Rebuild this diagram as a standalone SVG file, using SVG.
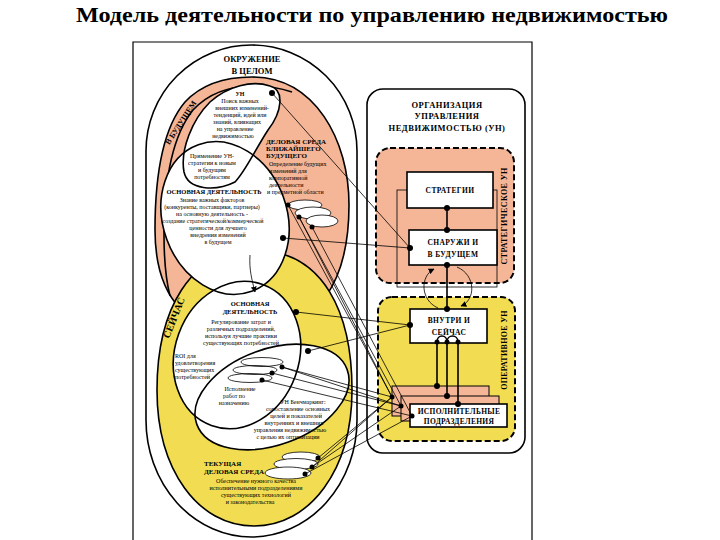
<svg xmlns="http://www.w3.org/2000/svg" width="720" height="540" viewBox="0 0 720 540">
<style>
.t{font-family:"Liberation Serif","Times New Roman",serif;fill:#000}
.s{font-size:6px}
.h{font-size:7px;font-weight:bold}
.hb{font-size:8.5px;font-weight:bold}
.ln{stroke:#000;stroke-width:1.6;fill:none}
.th{stroke:#000;stroke-width:0.8;fill:none}
.wf{fill:#fff;stroke:none}
.org{fill:#F4B697}
.yel{fill:#F2DD52}
.dot{fill:#000}
.dash{stroke:#000;stroke-width:2;stroke-dasharray:6 3}
.box{fill:#fff;stroke:#000;stroke-width:1.6}
.cl{fill:#fff;stroke:#000;stroke-width:0.8}
</style>
<defs>
<marker id="ah" viewBox="0 0 10 10" refX="9" refY="5" markerWidth="6" markerHeight="6" orient="auto" markerUnits="userSpaceOnUse"><path d="M0,0 L10,5 L0,10 Z" fill="#000"/></marker>
<path id="fUN" d="M270,86 C285,90 282,112 268,130 C255,150 245,172 235,182 C215,192 188,190 184,172 C180,150 192,120 210,102 C228,86 252,80 270,86 Z"/>
<ellipse id="fOD" cx="225" cy="218" rx="62" ry="78" transform="rotate(-20 225 218)"/>
<ellipse id="cOD" cx="237" cy="355" rx="62" ry="75" transform="rotate(20 237 355)"/>
<ellipse id="cBM" cx="272" cy="397" rx="80" ry="48" transform="rotate(-20 272 397)"/>
</defs>
<rect width="720" height="540" fill="#fff"/>
<text class="t" x="76" y="22" font-size="21" font-weight="bold" textLength="592" lengthAdjust="spacingAndGlyphs">Модель  деятельности по управлению недвижимостью</text>
<path d="M133,541 L133,42 L532,42 L532,541" fill="none" stroke="#000" stroke-width="1.2"/>

<g id="environment">
<path d="M146,420 L146,151 A105.5,106 0 0 1 357,151 L357,420 A105.5,117 0 0 1 146,420 Z" fill="#fff" stroke="#000" stroke-width="1.6"/>
<text class="t hb" x="252" y="62" text-anchor="middle">ОКРУЖЕНИЕ</text>
<text class="t hb" x="252" y="74" text-anchor="middle">В ЦЕЛОМ</text>
</g>

<g id="future">
<path class="org" d="M252,77 C315,77 349,140 349,205 C349,280 320,330 252,335 C190,335 155,300 155,230 C155,160 168,122 185,102 C198,88 220,77 252,77 Z" stroke="#000" stroke-width="1.6"/>
<path d="M292,92 C280,88 268,86 254,86 C226,86 206,96 193,110 C177,130 164,165 164,235 C164,260 166,280 170,296" class="ln"/>
<text class="t" font-size="8" font-weight="bold" transform="translate(183,124) rotate(-57)" text-anchor="middle">В БУДУЩЕМ</text>
</g>

<g id="current">
<path class="yel" d="M254,250 C325,250 352,315 352,390 C352,470 310,526 254,526 C198,526 157,470 157,390 C157,310 190,250 254,250 Z" stroke="#000" stroke-width="1.6"/>
<text class="t" font-size="10" font-weight="bold" transform="translate(177,319) rotate(-68)" text-anchor="middle">СЕЙЧАС</text>
</g>

<g id="white-fills">
<use href="#fOD" class="wf"/>
<use href="#fUN" class="wf"/>
<use href="#cOD" class="wf"/>
<use href="#cBM" class="wf"/>
</g>
<g id="outlines">
<use href="#fOD" class="ln"/>
<use href="#fUN" class="ln"/>
<use href="#cOD" class="ln"/>
<use href="#cBM" class="ln"/>
</g>

<g id="un-future">
<text class="t s" text-anchor="middle"><tspan x="240" y="96" font-weight="bold">УН</tspan><tspan x="240" y="103">Поиск важных</tspan><tspan x="242" y="110">внешних изменений-</tspan><tspan x="240" y="117">тенденций, идей или</tspan><tspan x="237" y="124">знаний, влияющих</tspan><tspan x="235" y="131">на управление</tspan><tspan x="233" y="138">недвижимостью</tspan></text>
<text class="t s" text-anchor="middle"><tspan x="212" y="158">Применение УН-</tspan><tspan x="212" y="165">стратегии к новым</tspan><tspan x="212" y="172">и будущим</tspan><tspan x="212" y="179">потребностям</tspan></text>
</g>

<g id="business-future">
<text class="t h"><tspan x="266" y="144">ДЕЛОВАЯ СРЕДА</tspan><tspan x="266" y="151">БЛИЖАЙШЕГО</tspan><tspan x="266" y="158">БУДУЩЕГО</tspan></text>
<text class="t s"><tspan x="269" y="166">Определение будущих</tspan><tspan x="269" y="173">изменений для</tspan><tspan x="269" y="180">корпоративной</tspan><tspan x="269" y="187">деятельности</tspan><tspan x="267" y="194">и предметной области</tspan></text>
</g>

<g id="core-future">
<text class="t" font-size="6.5" font-weight="bold" x="214" y="194" text-anchor="middle">ОСНОВНАЯ ДЕЯТЕЛЬНОСТЬ</text>
<text class="t s" text-anchor="middle"><tspan x="212" y="202">Знание важных факторов</tspan><tspan x="212" y="209">(конкуренты, поставщики, партнеры)</tspan><tspan x="212" y="216">на основную деятельность -</tspan><tspan x="213" y="223">создание стратегической/коммерческой</tspan><tspan x="218" y="230">ценности для лучшего</tspan><tspan x="218" y="237">внедрения изменений</tspan><tspan x="218" y="244">в будущем</tspan></text>
</g>

<g id="core-current">
<text class="t" font-size="6.5" font-weight="bold" text-anchor="middle"><tspan x="250" y="306">ОСНОВНАЯ</tspan><tspan x="250" y="314">ДЕЯТЕЛЬНОСТЬ</tspan></text>
<text class="t s" text-anchor="middle"><tspan x="241" y="324">Регулирование затрат и</tspan><tspan x="241" y="331">различных подразделений,</tspan><tspan x="241" y="338">используя лучшие практики</tspan><tspan x="241" y="345">существующих потребностей</tspan></text>
<text class="t s"><tspan x="175" y="358">ROI для</tspan><tspan x="175" y="365">удовлетворения</tspan><tspan x="175" y="372">существующих</tspan><tspan x="175" y="379">потребностей</tspan></text>
<text class="t s" text-anchor="middle"><tspan x="240" y="391">Исполнение</tspan><tspan x="234" y="398">работ по</tspan><tspan x="234" y="405">назначению</tspan></text>
</g>

<g id="benchmark">
<text class="t s" text-anchor="middle"><tspan x="303" y="404">УН Бенчмаркинг:</tspan><tspan x="298" y="411">сопоставление основных</tspan><tspan x="296" y="418">целей и показателей</tspan><tspan x="294" y="425">внутренних и внешних</tspan><tspan x="290" y="432">управления недвижимостью</tspan><tspan x="288" y="439">с целью их оптимизации</tspan></text>
</g>

<g id="business-current">
<text class="t h"><tspan x="204" y="466">ТЕКУЩАЯ</tspan><tspan x="204" y="474">ДЕЛОВАЯ СРЕДА</tspan></text>
<text class="t s" text-anchor="middle"><tspan x="256" y="483">Обеспечение нужного качества</tspan><tspan x="256" y="490">исполнительными подразделениями</tspan><tspan x="256" y="497">существующих технологий</tspan><tspan x="250" y="504">и законодательства</tspan></text>
</g>

<g id="clouds">
<ellipse class="cl" cx="305" cy="205" rx="17" ry="5"/>
<ellipse class="cl" cx="313" cy="213" rx="18" ry="6"/>
<ellipse class="cl" cx="322" cy="221" rx="16" ry="6"/>
<ellipse class="th" cx="262" cy="362" rx="21" ry="4.5"/>
<ellipse class="th" cx="255" cy="370" rx="22" ry="4.5"/>
<ellipse class="th" cx="250" cy="378" rx="22" ry="4.5"/>
<ellipse class="cl" cx="301" cy="457" rx="19" ry="5"/>
<ellipse class="cl" cx="296" cy="464" rx="22" ry="5.5"/>
<ellipse class="cl" cx="288" cy="473" rx="23" ry="6"/>
</g>

<g id="organisation">
<rect x="367" y="89" width="158" height="364" rx="16" fill="#fff" stroke="#000" stroke-width="1.6"/>
<text class="t" font-size="8.5" font-weight="bold" text-anchor="middle" letter-spacing="0.5"><tspan x="447" y="108">ОРГАНИЗАЦИЯ</tspan><tspan x="447" y="119">УПРАВЛЕНИЯ</tspan><tspan x="447" y="131">НЕДВИЖИМОСТЬЮ (УН)</tspan></text>
</g>

<g id="strategic">
<rect x="376" y="148" width="138" height="135" rx="14" class="org dash"/>
<rect x="397" y="190" width="100" height="97" class="th" stroke-width="1"/>
<text class="t" font-size="8" font-weight="bold" letter-spacing="0.4" transform="translate(507,216) rotate(-90)" text-anchor="middle">СТРАТЕГИЧЕСКОЕ УН</text>
</g>

<g id="operational">
<rect x="378" y="297" width="137" height="144" rx="14" class="yel dash"/>
<text class="t" font-size="8" font-weight="bold" letter-spacing="0.3" transform="translate(507,350) rotate(-90)" text-anchor="middle">ОПЕРАТИВНОЕ УН</text>
</g>

<g id="strategies">
<rect x="407" y="172" width="86" height="36" class="box"/>
<text class="t" font-size="7.5" font-weight="bold" letter-spacing="0.4" x="450" y="193" text-anchor="middle">СТРАТЕГИИ</text>
</g>

<g id="outside-future">
<rect x="409" y="230" width="88" height="35" class="box"/>
<text class="t" font-size="7.5" font-weight="bold" letter-spacing="0.4" text-anchor="middle"><tspan x="453" y="245">СНАРУЖИ И</tspan><tspan x="453" y="257">В БУДУЩЕМ</tspan></text>
</g>

<g id="inside-now">
<rect x="410" y="309" width="77" height="34" class="box"/>
<text class="t" font-size="7.5" font-weight="bold" letter-spacing="0.4" text-anchor="middle"><tspan x="449" y="323">ВНУТРИ И</tspan><tspan x="449" y="335">СЕЙЧАС</tspan></text>
</g>

<g id="executive-units">
<rect x="392" y="386" width="97" height="30" class="org" stroke="#000" stroke-width="1"/>
<rect x="401" y="396" width="98" height="25" class="org" stroke="#000" stroke-width="1"/>
<rect x="410" y="404" width="97" height="23" class="box"/>
<text class="t" font-size="7.5" font-weight="bold" letter-spacing="0.3" text-anchor="middle"><tspan x="459" y="414">ИСПОЛНИТЕЛЬНЫЕ</tspan><tspan x="459" y="424">ПОДРАЗДЕЛЕНИЯ</tspan></text>
</g>

<g id="connectors">
<path d="M250,255 C249,270 252,280 255,292" class="th" stroke-width="1" marker-end="url(#ah)"/>
<g class="th">
<line x1="272" y1="93" x2="410" y2="248"/>
<line x1="283" y1="238" x2="410" y2="248"/>
<line x1="296" y1="312" x2="410" y2="325"/>
<line x1="308" y1="351" x2="410" y2="325"/>
<line x1="288" y1="205" x2="392" y2="397"/>
<line x1="299" y1="217" x2="401" y2="406"/>
<line x1="312" y1="227" x2="412" y2="416"/>
<line x1="299" y1="217" x2="392" y2="397"/>
<line x1="282" y1="367" x2="392" y2="397"/>
<line x1="272" y1="373" x2="401" y2="406"/>
<line x1="262" y1="380" x2="412" y2="416"/>
<line x1="282" y1="367" x2="401" y2="406"/>
<line x1="318" y1="458" x2="392" y2="397"/>
<line x1="312" y1="467" x2="401" y2="406"/>
<line x1="305" y1="474" x2="412" y2="416"/>
<line x1="312" y1="467" x2="392" y2="397"/>
</g>
<g class="ln">
<line x1="447" y1="208" x2="447" y2="230"/>
<line x1="447" y1="265" x2="447" y2="309"/>
<path d="M437,342 C437,334 447,334 447,342 C447,334 458,334 458,342"/>
<line x1="437" y1="342" x2="437" y2="386"/>
<line x1="447" y1="342" x2="447" y2="396"/>
<line x1="458" y1="342" x2="458" y2="404"/>
</g>
<path d="M438,308 C420,300 420,276 434,269" class="th" stroke-width="1.2" marker-end="url(#ah)"/>
<path d="M457,267 C476,275 476,300 461,306" class="th" stroke-width="1.2" marker-end="url(#ah)"/>
<g class="dot">
<circle cx="272" cy="93" r="3"/>
<circle cx="283" cy="238" r="3"/>
<circle cx="296" cy="312" r="3"/>
<circle cx="308" cy="351" r="3"/>
<circle cx="410" cy="248" r="3"/>
<circle cx="410" cy="325" r="3"/>
<circle cx="288" cy="205" r="2.5"/>
<circle cx="299" cy="217" r="2.5"/>
<circle cx="312" cy="227" r="2.5"/>
<circle cx="282" cy="367" r="2.5"/>
<circle cx="272" cy="373" r="2.5"/>
<circle cx="262" cy="380" r="2.5"/>
<circle cx="318" cy="458" r="2.5"/>
<circle cx="312" cy="467" r="2.5"/>
<circle cx="305" cy="474" r="2.5"/>
<circle cx="392" cy="397" r="2.5"/>
<circle cx="401" cy="406" r="2.5"/>
<circle cx="412" cy="416" r="2.5"/>
<circle cx="447" cy="208" r="3"/>
<circle cx="447" cy="230" r="3"/>
<circle cx="447" cy="265" r="3"/>
<circle cx="447" cy="309" r="3"/>
<circle cx="437" cy="342" r="2.5"/>
<circle cx="447" cy="342" r="2.5"/>
<circle cx="458" cy="342" r="2.5"/>
<circle cx="437" cy="386" r="3"/>
<circle cx="447" cy="396" r="3"/>
<circle cx="458" cy="404" r="3"/>
</g>
</g>
</svg>
